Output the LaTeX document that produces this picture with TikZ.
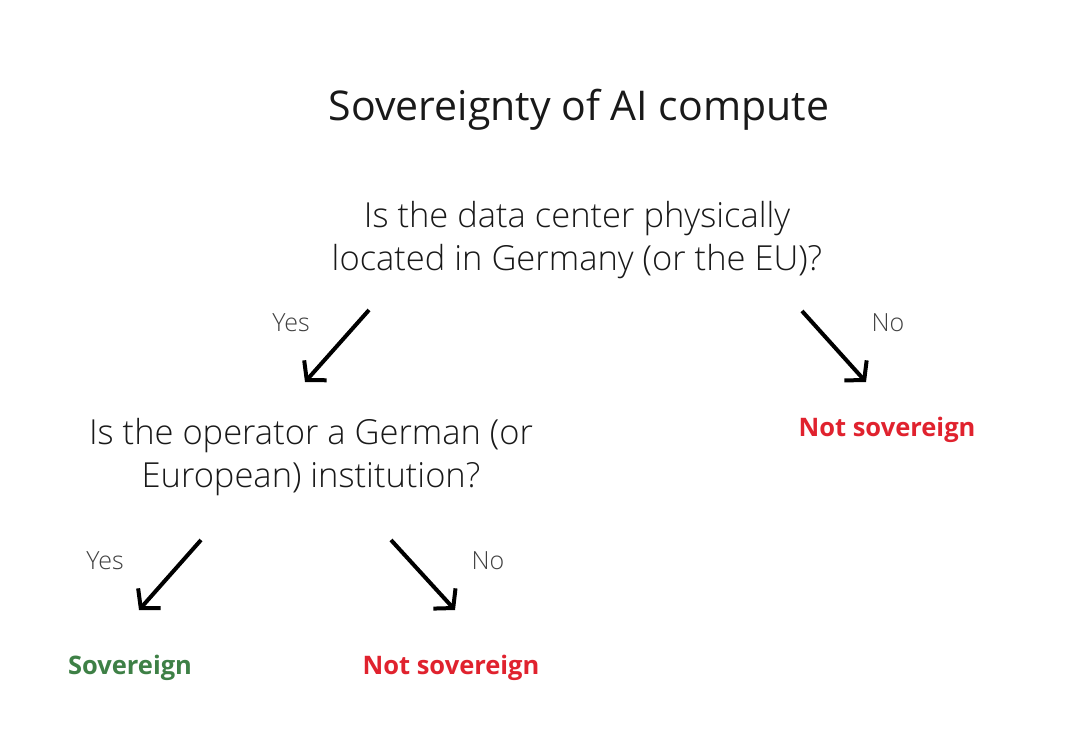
\documentclass[tikz,border=0pt]{standalone}
\usepackage{fontspec}
\setmainfont{Open Sans}[UprightFont={* Light}, BoldFont={* Bold}]
\newfontfamily\titlefont{Open Sans}
\usetikzlibrary{arrows.meta, positioning}
\definecolor{sovgreen}{RGB}{62,128,70}
\definecolor{notred}{RGB}{224,34,46}
\definecolor{ink}{RGB}{25,25,25}
\tikzset{
	titlebox/.style={align=center, text=ink, font=\titlefont\fontsize{41}{47}\selectfont},
	question/.style={align=center, text=ink, font=\fontsize{34.5}{43}\selectfont},
	answer/.style={text=black!75, font=\fontsize{25}{28}\selectfont},
	good/.style={text=sovgreen, font=\bfseries\fontsize{25.5}{28}\selectfont},
	bad/.style={text=notred, font=\bfseries\fontsize{25.5}{28}\selectfont},
	arr/.style={line width=4pt, line join=miter, -{Straight Barb[length=13pt, width=30pt]}}
}

\begin{document}
\begin{tikzpicture}[x=1pt, y=-1pt]
        \useasboundingbox (0, 0) rectangle (1088, 740);

        \node[titlebox] (title) at (579, 110) {Sovereignty of AI compute};
        \node[question] (q1) at (577, 240) {Is the data center physically\\located in Germany (or the EU)?};
        \node[question] (q2) at (311, 457) {Is the operator a German (or\\European) institution?};
        \node[bad] (out1) at (887, 430) {Not sovereign};
        \node[good] (sov) at (130, 668) {Sovereign};
        \node[bad] (out2) at (451, 668) {Not sovereign};

        \coordinate (q1yes) at (369, 310);
        \coordinate (q1no) at (802, 311);
        \coordinate (q2yes) at (201, 540);
        \coordinate (q2no) at (391, 540);
        \coordinate (toq2) at (305, 382);
        \coordinate (toout1) at (866, 382);
        \coordinate (tosov) at (139, 610);
        \coordinate (toout2) at (455, 610);

        \draw[arr] (q1yes) -- (toq2);
        \draw[arr] (q1no) -- (toout1);
        \draw[arr] (q2yes) -- (tosov);
        \draw[arr] (q2no) -- (toout2);

        \node[answer] (yes1) at (291, 323) {Yes};
        \node[answer] (no1) at (888, 323) {No};
        \node[answer] (yes2) at (105, 561) {Yes};
        \node[answer] (no2) at (488, 561) {No};
    \end{tikzpicture}
\end{document}
